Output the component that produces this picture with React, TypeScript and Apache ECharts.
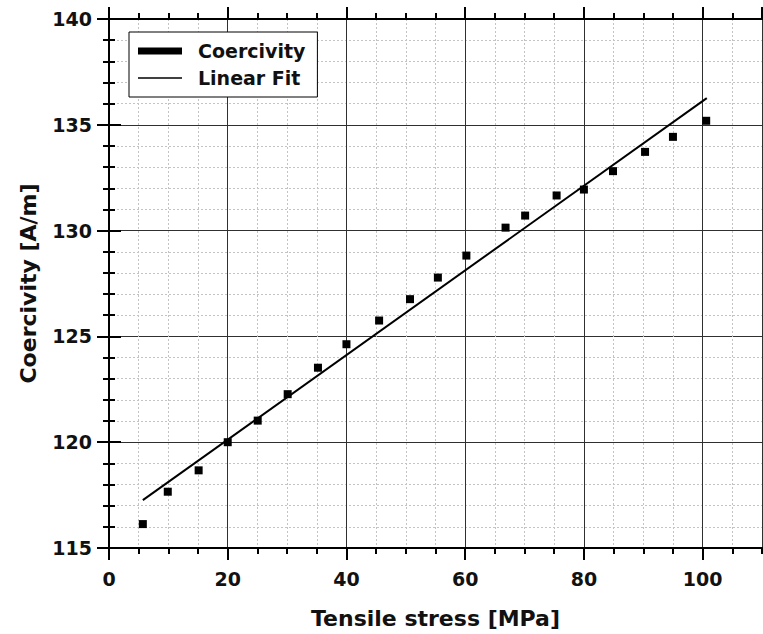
import React, { useEffect, useRef } from "react";
import * as echarts from "echarts";

const stressMPa = [5.7, 9.9, 15.1, 20.0, 25.05, 30.1, 35.2, 40.0, 45.5, 50.7, 55.4, 60.2, 66.8, 70.1, 75.4, 80.0, 84.9, 90.3, 95.0, 100.6];
const coercivity = [116.13, 117.66, 118.67, 120.0, 121.02, 122.27, 123.52, 124.63, 125.75, 126.76, 127.78, 128.82, 130.14, 130.71, 131.66, 131.94, 132.81, 133.72, 134.43, 135.19];
const fitX = [5.7, 100.7];
const fitY = [117.26, 136.26];

const FONT = "DejaVu Sans";

export default function App() {
  const ref = useRef<HTMLDivElement>(null);
  useEffect(() => {
    if (!ref.current) return;
    const chart = echarts.init(ref.current, undefined, { renderer: "svg" });
    const axisLine = { show: true, lineStyle: { color: "#000", width: 2 } };
    const minorSplit = { show: true, lineStyle: { color: "#c4c4c4", width: 1, type: [2, 2] as any } };
    const majorSplit = { show: true, lineStyle: { color: "#303030", width: 1 } };
    const labelStyle = { fontFamily: FONT, fontWeight: "bold" as const, fontSize: 19, color: "#111" };
    const nameStyle = { fontFamily: FONT, fontWeight: "bold" as const, fontSize: 22, color: "#111" };
    const xBase = { type: "value" as const, min: 0, max: 110, gridIndex: 0 };
    const yBase = { type: "value" as const, min: 115, max: 140, gridIndex: 0 };
    chart.setOption({
      animation: false,
      backgroundColor: "#fff",
      grid: { left: 109, top: 19, right: 1, bottom: 86, containLabel: false },
      legend: {
        orient: "vertical",
        left: 129,
        top: 32,
        padding: [9, 12, 9, 9],
        itemGap: 7,
        itemWidth: 44,
        itemHeight: 8,
        borderColor: "#000",
        borderWidth: 1,
        borderRadius: 0,
        backgroundColor: "#fff",
        textStyle: { fontFamily: FONT, fontWeight: "bold", fontSize: 19, color: "#111", lineHeight: 20, padding: [0, 0, 0, 11] },
        data: [
          { name: "Coercivity", icon: "path://M0 0H44V7H0Z", itemStyle: { color: "#000", opacity: 1 } },
          { name: "Linear Fit", icon: "path://M0 0H44V1.6H0Z", itemStyle: { color: "#000", opacity: 1 } },
        ],
      },
      xAxis: [
        {
          ...xBase, position: "bottom", interval: 5,
          axisLine, axisLabel: { show: false },
          axisTick: { show: true, inside: false, length: 6, lineStyle: { color: "#000", width: 2 } },
          splitLine: minorSplit,
        },
        {
          ...xBase, position: "bottom", interval: 20,
          axisLine,
          axisLabel: { ...labelStyle, margin: 21, showMaxLabel: false },
          axisTick: { show: true, inside: false, length: 12, lineStyle: { color: "#000", width: 2 } },
          splitLine: majorSplit,
          name: "Tensile stress [MPa]",
          nameLocation: "middle",
          nameGap: 59,
          nameTextStyle: nameStyle,
        },
        {
          ...xBase, position: "top", interval: 5,
          axisLine, axisLabel: { show: false },
          axisTick: { show: true, inside: false, length: 6, lineStyle: { color: "#000", width: 2 } },
          splitLine: { show: false },
        },
        {
          ...xBase, position: "top", interval: 20,
          axisLine, axisLabel: { show: false },
          axisTick: { show: true, inside: false, length: 12, lineStyle: { color: "#000", width: 2 } },
          splitLine: { show: false },
        },
      ],
      yAxis: [
        {
          ...yBase, position: "left", interval: 5,
          axisLine,
          axisLabel: { ...labelStyle, margin: 17 },
          axisTick: { show: true, inside: false, length: 12, lineStyle: { color: "#000", width: 2 } },
          minorTick: { show: true, splitNumber: 5, length: 6, lineStyle: { color: "#000", width: 2 } },
          splitLine: majorSplit,
          minorSplitLine: minorSplit,
          name: "Coercivity [A/m]",
          nameLocation: "middle",
          nameGap: 70,
          nameTextStyle: nameStyle,
        },
        {
          ...yBase, position: "right", interval: 5,
          axisLine, axisLabel: { show: false },
          axisTick: { show: true, inside: false, length: 12, lineStyle: { color: "#000", width: 2 } },
          minorTick: { show: true, splitNumber: 5, length: 6, lineStyle: { color: "#000", width: 2 } },
          splitLine: { show: false },
        },
      ],
      series: [
        {
          name: "Coercivity",
          type: "scatter",
          xAxisIndex: 1,
          yAxisIndex: 0,
          symbol: "rect",
          symbolSize: 8,
          itemStyle: { color: "#000", opacity: 1 },
          data: stressMPa.map((x, i) => [x, coercivity[i]]),
          z: 3,
        },
        {
          name: "Linear Fit",
          type: "line",
          xAxisIndex: 1,
          yAxisIndex: 0,
          showSymbol: false,
          symbol: "none",
          lineStyle: { color: "#000", width: 2 },
          itemStyle: { color: "#000" },
          data: fitX.map((x, i) => [x, fitY[i]]),
          z: 4,
        },
      ],
    });
    return () => chart.dispose();
  }, []);
  return (
    <div
      ref={ref}
      style={{ position: "fixed", left: 0, top: 0, width: 763, height: 634, background: "#fff" }}
    />
  );
}
